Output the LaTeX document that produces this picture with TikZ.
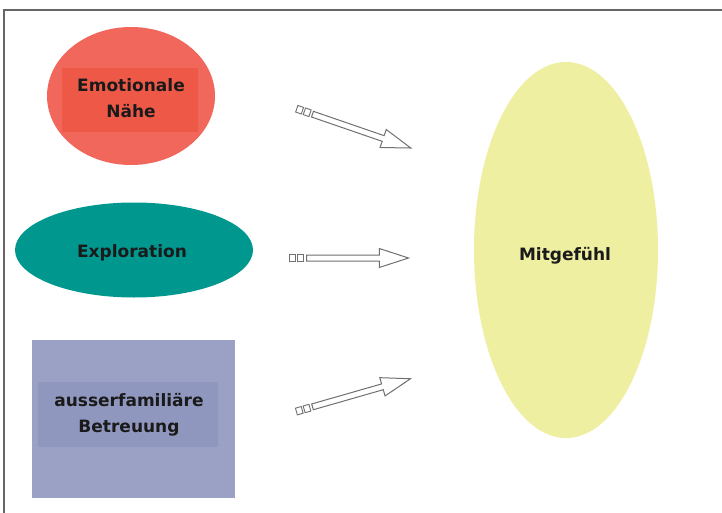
\documentclass[tikz,border=0pt]{standalone}
\usepackage{fontspec}
\setmainfont{DejaVu Sans}
\usetikzlibrary{shapes.geometric,shapes.arrows}
\definecolor{redout}{HTML}{F1675B}
\definecolor{redin}{HTML}{EE5947}
\definecolor{teal}{HTML}{00978F}
\definecolor{blueout}{HTML}{9BA1C5}
\definecolor{bluein}{HTML}{9097BF}
\definecolor{yel}{HTML}{EEEFA0}
\definecolor{txt}{HTML}{1A1A1A}
\definecolor{framec}{HTML}{666666}
\definecolor{arrc}{HTML}{707070}
\tikzset{
  lbl/.style={font=\fontsize{17}{26}\selectfont\bfseries, text=txt, align=center, inner sep=0pt},
  blockarrow/.style={single arrow, draw=arrc, line width=1pt,
    fill=white, minimum width=19pt, single arrow head extend=6.5pt, single arrow tip angle=36,
    inner xsep=0pt, inner ysep=2.5pt, anchor=tail},
  tailsq/.style={rectangle, draw=arrc, line width=0.9pt,
    fill=white, minimum width=6pt, minimum height=7pt, inner sep=0pt}
}
\begin{document}
\begin{tikzpicture}[x=1pt,y=-1pt]
\useasboundingbox (0,0) rectangle (722,513);
\fill[white] (0,0) rectangle (722,513);
% frame
\coordinate (fTL) at (4,10);
\coordinate (fTR) at (722,10);
\coordinate (fBL) at (4,513);
\draw[framec, line width=1.6pt] (fTR) -- (fTL) -- (fBL);
% red ellipse
\node[ellipse, fill=redout, minimum width=168pt, minimum height=138pt, inner sep=0pt] (emo) at (131,96) {};
\node[rectangle, fill=redin, minimum width=136pt, minimum height=64pt, inner sep=0pt] (emoin) at (130,100) {};
\node[lbl] (emotxt) at (131,98) {Emotionale\\Nähe};
% teal ellipse
\node[ellipse, fill=teal, minimum width=238pt, minimum height=95pt, inner sep=0pt] (expl) at (134,250) {};
\node[lbl] (expltxt) at (132,252.4) {Exploration};
% blue rect
\node[rectangle, fill=blueout, minimum width=203pt, minimum height=158pt, inner sep=0pt] (betr) at (133.5,419) {};
\node[rectangle, fill=bluein, minimum width=180pt, minimum height=65pt, inner sep=0pt] (betrin) at (128,414.5) {};
\node[lbl] (betrtxt) at (129,415.2) {ausserfamiliäre\\Betreuung};
% yellow ellipse
\node[ellipse, fill=yel, minimum width=184pt, minimum height=376pt, inner sep=0pt] (mit) at (566,250) {};
\node[lbl] (mittxt) at (565,256) {Mitgefühl};
% arrows
\node[blockarrow, rotate=-19, minimum height=104pt] (a1) at (312,114) {};
\node[tailsq, rotate=-19] (a1s1) at (307.2,112.3) {};
\node[tailsq, rotate=-19] (a1s2) at (299.6,109.7) {};
\node[blockarrow, rotate=0, minimum height=102pt] (a2) at (306,258) {};
\node[tailsq] (a2s1) at (300.5,258) {};
\node[tailsq] (a2s2) at (292.5,258) {};
\node[blockarrow, rotate=16, minimum height=102pt] (a3) at (312,407) {};
\node[tailsq, rotate=16] (a3s1) at (307,408.5) {};
\node[tailsq, rotate=16] (a3s2) at (299.3,410.7) {};
\end{tikzpicture}
\end{document}
